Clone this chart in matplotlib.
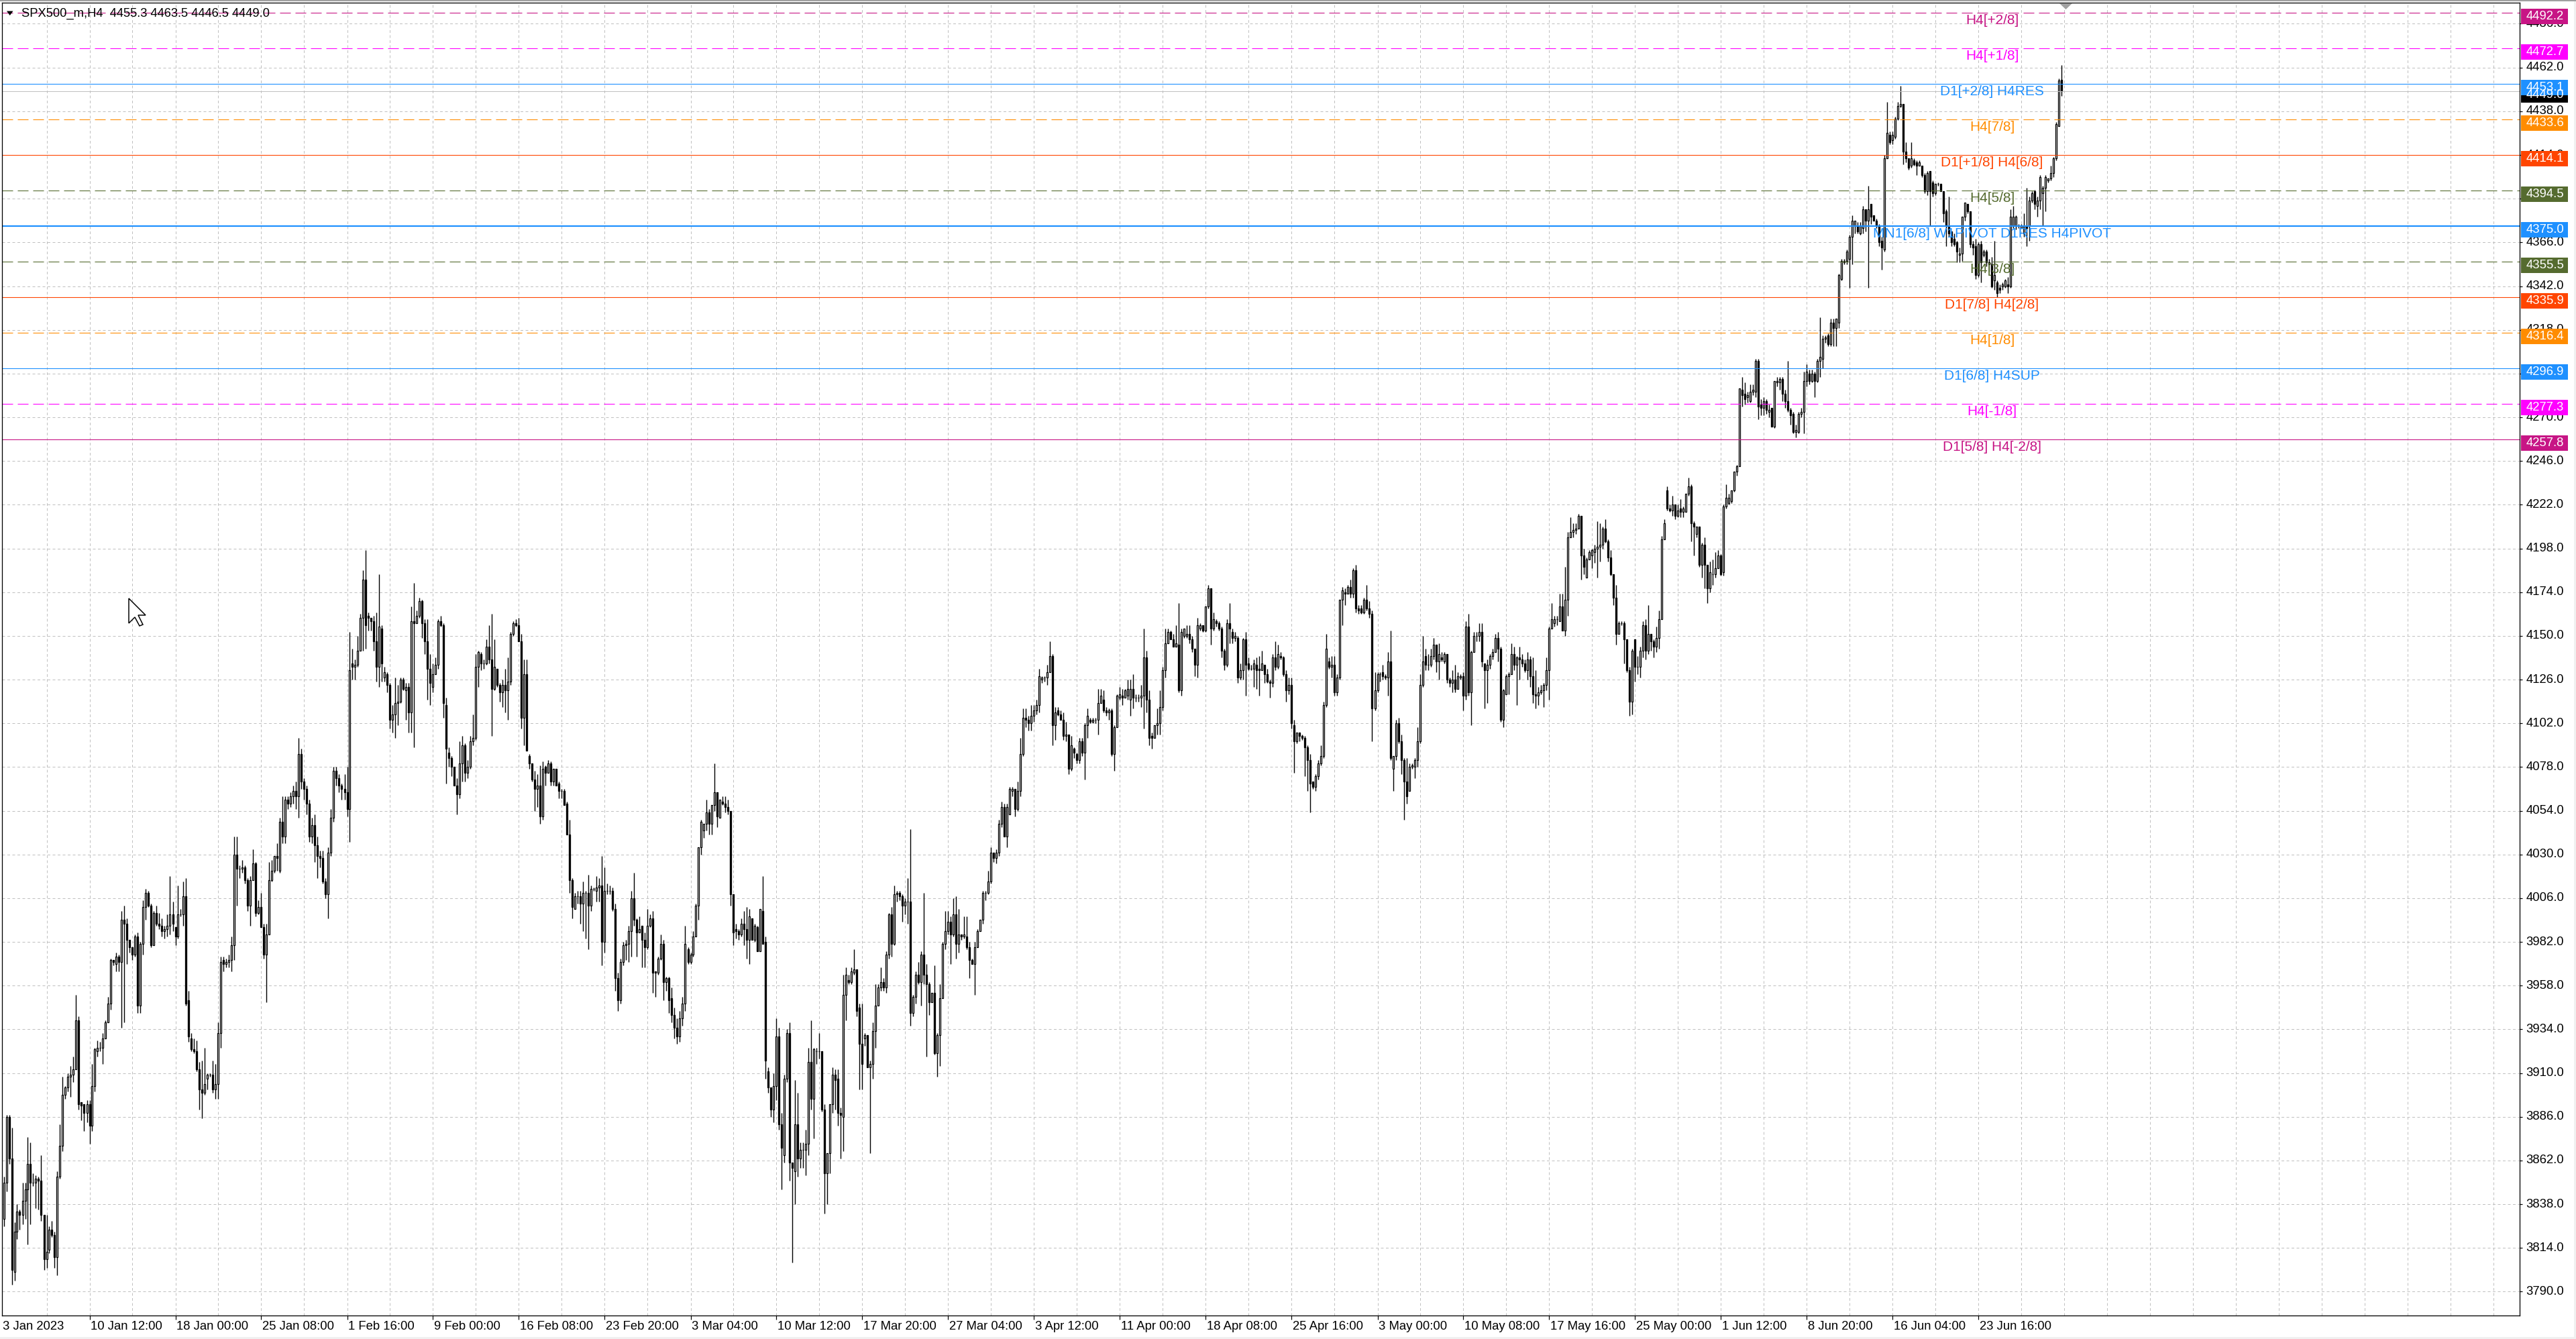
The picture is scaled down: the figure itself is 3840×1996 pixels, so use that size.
import matplotlib
matplotlib.use("Agg")
import matplotlib.pyplot as plt
import numpy as np
from matplotlib.patches import Rectangle, Polygon
from matplotlib.transforms import blended_transform_factory

# ---------------------------------------------------------------- data
# SPX500_m H4 candles, 3 Jan 2023 - 30 Jun 2023 (one row per trading day)
opens = [
 3830,3850,3886,3863,3801,
 3823,3834,3832,3840,3846,3860,
 3850,3850,3852,3851,3832,3808,
 3813,3824,3821,3809,3853,3870,
 3898,3902,3908,3909,3912,3939,
 3894,3893,3888,3893,3881,3903,
 3922,3924,3924,3929,3938,3948,
 3972,3970,3974,3971,3994,3992,
 3983,3979,3975,3985,3947,3981,
 4001,4009,4002,3980,3998,
 3992,3991,3988,3989,3991,3997,
 3990,3985,3997,3997,4007,3950,
 3929,3923,3922,3912,3901,3899,
 3907,3909,3909,3901,3904,3932,
 3972,3970,3971,3972,3980,4030,
 4022,4022,4023,4016,4002,4016,
 4025,3998,4001,3990,3975,3986,
 4016,4021,4029,4021,4048,4040,
 4060,4058,4062,4065,4062,4085,
 4070,4066,4058,4040,4046,4035,
 4029,4028,4015,4008,4031,4050,
 4076,4072,4068,4066,4064,4055,
 4135,4133,4134,4142,4160,4181,
 4161,4160,4158,4147,4133,4154,
 4127,4129,4123,4104,4107,4113,
 4114,4126,4120,4122,4108,4158,
 4157,4161,4169,4157,4147,4132,
 4122,4129,4134,4158,4156,4112,
 4086,4083,4078,4068,4063,4080,
 4090,4075,4078,4092,4094,4133,
 4140,4135,4135,4144,4137,4121,
 4132,4123,4119,4123,4120,4125,
 4151,4157,4156,4147,4105,4129,
 4084,4080,4071,4066,4068,4051,
 4078,4075,4080,4070,4077,
 4069,4065,4065,4058,4041,4016,
 4000,4007,4007,4003,4009,4009,
 4002,4011,4010,4012,4013,3982,
 4010,4010,4010,4000,3962,3950,
 3971,3980,3981,3988,4006,3994,
 3987,3991,3983,3979,3991,3995,
 3966,3965,3973,3981,3960,3962,
 3951,3942,3935,3930,3940,3948,
 3978,3971,3975,3985,4002,4034,
 4043,4047,4053,4047,4057,4064,
 4050,4059,4058,4056,4054,4008,
 3989,3988,3986,3992,3989,3983,
 3995,3983,3990,3977,3999,3982,
 3911,3902,3890,3903,3930,3882,
 3865,3907,3932,3861,3856,3882,
 3863,3868,3868,3871,3916,3896,
 3922,3922,3922,3890,3855,3866,
 3893,3909,3907,3888,3886,3953,
 3961,3960,3965,3967,3946,3926,
 3929,3931,3913,3915,3933,3947,
 3957,3960,3957,3975,3997,3981,
 4008,4009,4007,4002,4004,4004,
 3943,3952,3964,3960,3975,3964,
 3959,3949,3954,3921,3931,3951,
 3981,3988,3993,3986,3997,3981,
 3986,3985,3985,3979,3972,3970,
 3979,3988,3994,4009,4009,4015,
 4031,4028,4031,4047,4056,4040,
 4052,4065,4066,4055,4065,4085,
 4105,4104,4102,4106,4109,4112,
 4126,4127,4127,4130,4139,4101,
 4109,4107,4104,4095,4096,4077,
 4088,4085,4082,4092,4086,4101,
 4104,4103,4104,4104,4113,
 4115,4109,4108,4109,4085,4100,
 4116,4117,4116,4117,4115,4121,
 4116,4116,4116,4117,4138,4115,
 4095,4094,4101,4102,4111,4131,
 4146,4152,4148,4144,4145,4120,
 4150,4150,4151,4148,4143,4134,
 4154,4156,4153,4166,4176,4154,
 4158,4157,4154,4142,4134,4157,
 4152,4149,4149,4127,4131,4148,
 4135,4132,4132,4134,4132,4131,
 4134,4129,4125,4124,4138,4133,
 4139,4138,4129,4120,4123,4101,
 4092,4097,4095,4094,4089,4082,
 4070,4067,4073,4080,4084,4112,
 4136,4133,4134,4119,4127,4170,
 4174,4173,4177,4173,4186,4165,
 4165,4163,4170,4165,4162,4110,
 4120,4129,4130,4128,4127,4136,
 4077,4084,4102,4092,4082,4070,
 4065,4078,4078,4082,4092,4123,
 4139,4134,4134,4139,4145,4136,
 4138,4136,4140,4126,4124,4126,
 4121,4127,4128,4117,4155,4119,
 4141,4150,4150,4152,4135,4131,
 4134,4139,4141,4149,4143,4104,
 4118,4128,4129,4140,4134,4138,
 4137,4135,4131,4137,4128,4118,
 4117,4119,4120,4123,4131,4154,
 4157,4159,4158,4166,4153,4170,
 4204,4207,4208,4209,4216,4194,
 4182,4192,4194,4196,4198,4199,
 4200,4209,4202,4193,4184,4171,
 4151,4157,4157,4148,4131,4114,
 4148,4133,4133,4142,4156,4142,
 4151,4147,4144,4149,4159,4203,
 4230,4220,4219,4222,4216,
 4220,4218,4218,4228,4232,4212,
 4206,4210,4189,4200,4189,4176,
 4184,4184,4187,4194,4185,4221,
 4223,4224,4230,4240,4243,4285,
 4283,4281,4279,4284,4284,4301,
 4277,4275,4279,4273,4275,4265,
 4289,4289,4291,4283,4279,4274,
 4272,4262,4262,4272,4273,4290,
 4294,4290,4294,4290,4301,4302,
 4313,4315,4310,4322,4319,4322,
 4346,4355,4356,4357,4369,4375,
 4375,4371,4374,4384,4378,4387,
 4381,4378,4375,4367,4362,4412,
 4425,4422,4424,4434,4441,4442,
 4416,4412,4408,4411,4410,
 4408,4408,4403,4394,4405,4399,
 4393,4398,4398,4394,4383,4375,
 4372,4368,4366,4359,4360,4380,
 4387,4383,4365,4364,4348,4365,
 4359,4361,4355,4354,4345,4344,
 4341,4342,4342,4343,4342,4375,
 4375,4375,4374,4371,4375,4375,
 4389,4394,4386,4389,4393,4396,
 4400,4401,4404,4412,4430,4455.3,
]

highs = [
 3853,3887,3887,3880,3828,
 3838,3835,3850,3850,3875,3872,
 3855,3854,3853,3865,3832,3832,
 3826,3829,3823,3856,3882,3908,
 3903,3910,3914,3919,3953,3941,
 3894,3893,3895,3895,3915,3924,
 3928,3927,3932,3939,3952,3973,
 3972,3976,3975,3999,4002,3995,
 3983,3979,3986,3987,3982,4005,
 4011,4010,4003,3999,4002,
 3998,3995,3991,3997,4018,4004,
 3990,4013,4000,4015,4017,3955,
 3932,3929,3928,3916,3917,3924,
 3910,3910,3917,3915,3938,3974,
 3974,3973,3975,3985,4040,4040,
 4024,4027,4024,4017,4018,4033,
 4026,4005,4009,3992,3992,4026,
 4027,4029,4036,4050,4062,4062,
 4062,4064,4068,4070,4094,4088,
 4072,4068,4060,4050,4052,4040,
 4032,4032,4017,4034,4055,4078,
 4078,4074,4069,4074,4078,4152,
 4143,4137,4150,4162,4186,4197,
 4163,4160,4161,4163,4184,4156,
 4133,4130,4124,4112,4127,4123,
 4127,4127,4124,4124,4166,4179,
 4164,4171,4170,4159,4159,4140,
 4135,4138,4159,4161,4157,4116,
 4089,4084,4078,4072,4092,4095,
 4091,4082,4095,4107,4140,4142,
 4141,4137,4148,4156,4162,4148,
 4132,4124,4126,4132,4138,4152,
 4158,4159,4160,4151,4137,4137,
 4085,4080,4076,4074,4079,4081,
 4079,4082,4081,4077,4077,
 4070,4066,4066,4059,4049,4017,
 4009,4010,4010,4015,4010,4019,
 4013,4012,4018,4017,4029,4023,
 4014,4013,4012,4003,3965,3973,
 3982,3983,3991,4010,4020,3995,
 3996,3991,3987,4000,3997,3999,
 3966,3974,3986,3983,3963,3963,
 3957,3946,3940,3944,3952,3991,
 3979,3976,3988,4003,4034,4049,
 4047,4060,4055,4057,4080,4064,
 4060,4062,4062,4060,4054,4008,
 3992,3989,3995,3999,4001,4000,
 3995,3992,3991,4000,4018,3985,
 3913,3902,3910,3940,3935,3888,
 3909,3934,3938,3861,3906,3899,
 3872,3872,3879,3924,3939,3924,
 3924,3932,3922,3893,3866,3893,
 3913,3912,3912,3891,3964,3968,
 3964,3968,3978,3967,3948,3948,
 3932,3931,3917,3938,3959,3959,
 3968,3962,3977,3998,4001,4013,
 4010,4010,4008,4006,4017,4044,
 3953,3966,3971,3977,4009,3970,
 3960,3954,3969,3932,3959,3982,
 3999,3999,3996,4006,4007,4000,
 3986,3996,3996,3982,3973,3982,
 3989,3994,4010,4010,4021,4034,
 4031,4033,4049,4059,4058,4058,
 4067,4067,4066,4070,4094,4110,
 4110,4106,4112,4112,4115,4132,
 4128,4128,4134,4147,4140,4111,
 4111,4109,4108,4103,4096,4095,
 4089,4086,4094,4094,4102,4110,
 4105,4105,4105,4121,4121,
 4120,4111,4110,4110,4101,4118,
 4122,4121,4121,4126,4126,4129,
 4118,4118,4123,4154,4142,4120,
 4097,4101,4110,4120,4133,4154,
 4154,4153,4151,4156,4168,4154,
 4154,4156,4156,4150,4143,4160,
 4157,4156,4166,4178,4176,4163,
 4159,4158,4155,4143,4159,4168,
 4154,4152,4150,4135,4149,4152,
 4138,4134,4137,4138,4139,4142,
 4134,4132,4126,4140,4147,4145,
 4141,4139,4131,4127,4127,4104,
 4097,4097,4096,4095,4090,4085,
 4070,4074,4082,4090,4114,4151,
 4138,4139,4139,4129,4170,4177,
 4176,4178,4181,4187,4189,4167,
 4167,4171,4178,4169,4164,4130,
 4130,4130,4134,4129,4141,4153,
 4084,4104,4105,4096,4083,4083,
 4080,4080,4083,4100,4129,4150,
 4143,4140,4143,4149,4145,4146,
 4141,4141,4140,4127,4131,4134,
 4130,4129,4130,4158,4162,4142,
 4152,4152,4157,4157,4135,4137,
 4140,4143,4151,4152,4144,4121,
 4129,4130,4146,4144,4139,4144,
 4140,4137,4141,4139,4138,4131,
 4122,4123,4124,4138,4155,4168,
 4161,4161,4173,4173,4188,4207,
 4215,4212,4212,4217,4216,4198,
 4193,4197,4198,4200,4213,4212,
 4210,4214,4203,4197,4184,4178,
 4158,4158,4158,4148,4133,4143,
 4148,4139,4144,4158,4159,4167,
 4151,4148,4155,4164,4205,4214,
 4232,4222,4227,4222,4222,
 4225,4221,4228,4237,4233,4213,
 4210,4210,4201,4204,4189,4191,
 4192,4196,4197,4195,4222,4233,
 4228,4230,4240,4244,4286,4292,
 4289,4284,4288,4288,4302,4302,
 4280,4281,4280,4277,4275,4290,
 4292,4292,4292,4285,4301,4275,
 4273,4266,4273,4275,4295,4299,
 4296,4296,4295,4302,4325,4315,
 4315,4316,4324,4324,4324,4349,
 4357,4357,4362,4370,4381,4378,
 4377,4377,4386,4384,4397,4387,
 4381,4379,4376,4369,4414,4443,
 4427,4427,4435,4443,4452,4442,
 4421,4412,4421,4412,4411,
 4411,4408,4404,4405,4405,4400,
 4398,4399,4398,4394,4384,4391,
 4372,4371,4367,4363,4380,4388,
 4387,4383,4367,4368,4366,4367,
 4362,4362,4357,4358,4367,4345,
 4343,4344,4346,4347,4384,4386,
 4381,4376,4376,4382,4396,4391,
 4394,4395,4391,4403,4397,4403,
 4401,4408,4413,4432,4456,4463.5,
]

lows = [
 3826,3845,3860,3794,3796,
 3819,3824,3827,3830,3816,3827,
 3848,3836,3835,3829,3802,3803,
 3811,3820,3803,3799,3852,3867,
 3896,3900,3897,3905,3912,3890,
 3884,3878,3883,3871,3878,3900,
 3919,3922,3915,3929,3938,3945,
 3969,3966,3966,3935,3938,3970,
 3976,3972,3974,3943,3943,3975,
 3994,4001,3979,3980,3991,
 3989,3985,3984,3985,3986,3988,
 3980,3984,3996,3991,3947,3927,
 3922,3921,3911,3890,3885,3898,
 3901,3908,3899,3896,3896,3924,
 3966,3968,3968,3966,3972,4002,
 4017,4020,4014,3999,3991,4016,
 3996,3997,3990,3973,3949,3986,
 4015,4020,4021,4020,4036,4036,
 4055,4056,4058,4055,4050,4066,
 4060,4052,4037,4036,4026,4017,
 4023,4014,4006,3995,4029,4048,
 4068,4064,4060,4060,4051,4037,
 4126,4126,4133,4142,4142,4143,
 4153,4153,4142,4125,4122,4125,
 4125,4119,4099,4097,4094,4101,
 4113,4120,4104,4097,4097,4089,
 4157,4160,4149,4140,4115,4112,
 4119,4129,4132,4155,4105,4069,
 4078,4073,4068,4052,4061,4070,
 4070,4072,4077,4090,4093,4122,
 4131,4132,4134,4135,4095,4120,
 4122,4114,4111,4108,4104,4123,
 4150,4155,4147,4099,4090,4087,
 4077,4070,4054,4056,4047,4049,
 4068,4075,4068,4068,4068,
 4061,4061,4057,4041,4009,3995,
 4000,4003,3992,3988,3984,3978,
 3999,4010,4004,4004,3969,3976,
 4008,4008,3999,3955,3944,3948,
 3969,3972,3971,3974,3991,3974,
 3987,3968,3968,3978,3990,3954,
 3952,3964,3972,3950,3955,3943,
 3938,3929,3926,3927,3936,3944,
 3970,3970,3974,3985,3994,4030,
 4039,4043,4041,4041,4054,4045,
 4050,4057,4053,4052,4002,3980,
 3984,3983,3985,3980,3973,3970,
 3983,3982,3977,3977,3981,3907,
 3899,3886,3883,3895,3879,3846,
 3861,3905,3851,3806,3838,3853,
 3858,3858,3854,3865,3890,3874,
 3915,3918,3889,3833,3838,3855,
 3888,3890,3881,3863,3867,3939,
 3959,3959,3964,3941,3901,3901,
 3925,3913,3866,3907,3924,3947,
 3955,3955,3954,3973,3974,3980,
 4004,4005,3993,3997,3992,3936,
 3941,3948,3959,3947,3959,3919,
 3942,3949,3920,3908,3914,3951,
 3978,3986,3970,3985,3973,3976,
 3983,3984,3978,3962,3970,3953,
 3979,3988,3992,4005,4008,4014,
 4026,4025,4029,4045,4040,4034,
 4052,4062,4051,4054,4062,4084,
 4100,4098,4098,4103,4107,4108,
 4124,4125,4123,4130,4090,4093,
 4106,4104,4093,4092,4074,4076,
 4083,4080,4080,4084,4071,4094,
 4102,4102,4102,4096,4113,
 4108,4106,4104,4084,4076,4100,
 4115,4112,4116,4115,4106,4110,
 4114,4114,4111,4099,4108,4090,
 4088,4094,4096,4096,4109,4127,
 4146,4148,4144,4144,4119,4117,
 4149,4149,4146,4141,4128,4127,
 4153,4152,4152,4165,4145,4153,
 4155,4153,4138,4131,4133,4146,
 4146,4147,4124,4126,4126,4117,
 4131,4131,4122,4121,4117,4131,
 4124,4124,4116,4122,4131,4132,
 4137,4128,4114,4118,4099,4075,
 4091,4092,4093,4073,4065,4053,
 4066,4065,4071,4079,4083,4111,
 4132,4127,4117,4117,4126,4156,
 4167,4173,4171,4171,4163,4162,
 4162,4162,4164,4160,4092,4109,
 4119,4125,4126,4126,4117,4082,
 4065,4082,4091,4074,4049,4058,
 4065,4077,4072,4078,4091,4122,
 4131,4131,4133,4137,4130,4126,
 4136,4135,4124,4122,4119,4119,
 4121,4126,4109,4115,4117,4101,
 4141,4147,4147,4133,4110,4113,
 4132,4137,4141,4136,4103,4100,
 4118,4118,4129,4131,4112,4126,
 4133,4130,4126,4122,4113,4110,
 4112,4118,4111,4120,4115,4154,
 4155,4156,4158,4153,4150,4161,
 4204,4204,4206,4209,4181,4184,
 4182,4192,4187,4190,4182,4191,
 4198,4201,4191,4183,4167,4145,
 4151,4156,4135,4130,4106,4107,
 4125,4129,4127,4138,4137,4140,
 4142,4138,4141,4143,4159,4203,
 4219,4218,4216,4214,4215,
 4215,4215,4218,4227,4202,4194,
 4204,4188,4182,4176,4168,4174,
 4178,4182,4187,4183,4183,4220,
 4222,4223,4229,4238,4243,4276,
 4277,4278,4278,4282,4281,4269,
 4271,4271,4272,4270,4265,4264,
 4287,4285,4279,4275,4273,4266,
 4261,4259,4261,4270,4261,4287,
 4288,4289,4281,4289,4292,4297,
 4311,4309,4309,4309,4309,4319,
 4345,4354,4354,4341,4354,4371,
 4371,4370,4371,4372,4341,4376,
 4378,4374,4364,4351,4361,4412,
 4420,4420,4423,4433,4440,4409,
 4410,4406,4407,4408,4403,
 4408,4402,4393,4392,4375,4391,
 4392,4397,4394,4377,4364,4369,
 4364,4364,4355,4355,4356,4378,
 4382,4363,4359,4346,4347,4344,
 4358,4353,4350,4341,4340,4336,
 4338,4340,4341,4338,4341,4374,
 4373,4374,4374,4369,4364,4367,
 4388,4384,4380,4384,4375,4383,
 4399,4400,4402,4411,4430,4446.5,
]

closes = [
 3850,3886,3863,3802,3823,
 3834,3832,3840,3846,3860,3850,
 3850,3852,3851,3832,3808,3812,
 3824,3821,3809,3853,3870,3898,
 3902,3908,3909,3912,3939,3893,
 3892,3888,3893,3881,3903,3923,
 3924,3924,3929,3938,3948,3972,
 3971,3974,3971,3994,3992,3983,
 3979,3975,3985,3947,3981,4001,
 4009,4002,3980,3998,3992,
 3991,3988,3989,3991,3997,3992,
 3985,3997,3997,4007,3948,3930,
 3923,3922,3912,3901,3899,3904,
 3909,3909,3901,3904,3932,3971,
 3970,3971,3972,3980,4030,4022,
 4022,4023,4016,4002,4016,4025,
 3998,4001,3990,3975,3986,4016,
 4021,4029,4028,4048,4040,4060,
 4058,4062,4065,4062,4085,4070,
 4066,4058,4040,4046,4035,4029,
 4028,4015,4008,4031,4050,4076,
 4072,4068,4066,4064,4055,4131,
 4133,4134,4142,4160,4181,4156,
 4160,4158,4147,4133,4155,4135,
 4130,4123,4104,4107,4113,4114,
 4126,4121,4122,4108,4158,4157,
 4161,4169,4157,4147,4132,4124,
 4129,4134,4158,4156,4113,4088,
 4083,4078,4068,4063,4080,4090,
 4075,4078,4092,4094,4133,4141,
 4135,4135,4144,4137,4121,4133,
 4123,4119,4123,4120,4125,4151,
 4157,4156,4147,4105,4129,4087,
 4080,4071,4066,4068,4051,4077,
 4075,4080,4070,4077,4068,
 4065,4065,4057,4041,4016,4001,
 4007,4007,4003,4009,4009,4002,
 4011,4011,4012,4013,3982,4010,
 4010,4010,4000,3962,3950,3971,
 3980,3981,3988,4006,3994,3987,
 3989,3983,3979,3991,3995,3965,
 3965,3973,3981,3960,3962,3950,
 3942,3935,3930,3940,3948,3981,
 3971,3975,3985,4002,4034,4048,
 4047,4053,4047,4057,4064,4051,
 4060,4058,4056,4054,4008,3987,
 3988,3986,3992,3989,3983,3996,
 3983,3991,3977,4000,3981,3917,
 3902,3890,3903,3930,3882,3869,
 3907,3932,3861,3858,3882,3863,
 3868,3868,3871,3916,3896,3923,
 3922,3922,3890,3855,3866,3893,
 3909,3906,3888,3887,3953,3964,
 3960,3966,3967,3944,3926,3915,
 3931,3913,3915,3933,3947,3957,
 3960,3957,3975,3997,3981,4008,
 4009,4007,4002,4004,4004,3943,
 3952,3964,3960,3975,3964,3959,
 3949,3954,3921,3931,3951,3981,
 3988,3993,3986,3997,3981,3986,
 3985,3986,3979,3972,3970,3979,
 3988,3994,4009,4009,4015,4031,
 4028,4031,4047,4056,4040,4056,
 4066,4066,4055,4065,4085,4105,
 4104,4102,4106,4109,4112,4128,
 4127,4127,4130,4139,4101,4108,
 4107,4104,4095,4096,4077,4090,
 4086,4082,4092,4086,4101,4106,
 4103,4104,4104,4113,4117,
 4109,4108,4109,4085,4100,4117,
 4118,4116,4120,4121,4121,4116,
 4116,4116,4117,4138,4115,4094,
 4094,4101,4102,4111,4131,4146,
 4152,4148,4144,4146,4120,4152,
 4154,4151,4148,4143,4134,4156,
 4156,4153,4166,4176,4154,4159,
 4157,4154,4142,4134,4157,4154,
 4149,4150,4127,4131,4148,4134,
 4132,4132,4135,4131,4131,4135,
 4129,4125,4124,4138,4133,4140,
 4138,4129,4120,4123,4102,4092,
 4097,4095,4094,4089,4082,4069,
 4067,4073,4080,4084,4112,4143,
 4133,4134,4119,4127,4170,4175,
 4173,4177,4173,4186,4165,4164,
 4163,4170,4165,4162,4110,4120,
 4129,4129,4128,4127,4136,4083,
 4084,4102,4092,4082,4070,4062,
 4078,4079,4082,4092,4123,4136,
 4134,4134,4139,4145,4136,4140,
 4137,4140,4126,4124,4126,4121,
 4128,4128,4117,4155,4119,4141,
 4150,4150,4152,4136,4131,4134,
 4139,4141,4149,4143,4104,4120,
 4128,4129,4140,4134,4138,4137,
 4135,4131,4137,4128,4118,4117,
 4119,4120,4123,4131,4154,4159,
 4159,4159,4166,4153,4170,4204,
 4207,4208,4209,4216,4194,4188,
 4192,4196,4197,4198,4199,4200,
 4209,4202,4193,4184,4171,4151,
 4157,4157,4148,4131,4114,4142,
 4133,4133,4142,4156,4142,4151,
 4147,4144,4149,4159,4203,4212,
 4220,4219,4222,4216,4219,
 4218,4220,4228,4232,4212,4210,
 4210,4189,4200,4189,4176,4185,
 4184,4187,4194,4184,4221,4226,
 4226,4230,4240,4243,4286,4282,
 4280,4282,4284,4285,4301,4276,
 4275,4279,4274,4274,4265,4290,
 4290,4291,4283,4279,4274,4271,
 4262,4263,4272,4273,4290,4295,
 4290,4294,4290,4301,4303,4313,
 4314,4310,4322,4319,4324,4348,
 4356,4356,4361,4369,4378,4378,
 4372,4375,4384,4378,4384,4380,
 4378,4375,4366,4363,4412,4426,
 4421,4425,4434,4441,4442,4416,
 4412,4407,4412,4409,4408,
 4410,4403,4394,4404,4394,4393,
 4398,4398,4394,4382,4375,4371,
 4366,4365,4361,4360,4380,4388,
 4383,4365,4363,4348,4365,4355,
 4361,4355,4354,4342,4348,4338,
 4340,4343,4345,4342,4380,4380,
 4380,4375,4375,4375,4374,4389,
 4393,4387,4389,4402,4396,4402,
 4401,4404,4412,4431,4455,4449.0,
]

# Murrey-math style levels drawn on the chart
level_prices = [4492.2, 4472.7, 4453.1, 4433.6, 4414.1, 4394.5, 4375.0,
                4355.5, 4335.9, 4316.4, 4296.9, 4277.3, 4257.8]
level_names = ["H4[+2/8]", "H4[+1/8]", "D1[+2/8] H4RES", "H4[7/8]",
               "D1[+1/8] H4[6/8]", "H4[5/8]", "MN1[6/8] W1PIVOT D1RES H4PIVOT",
               "H4[3/8]", "D1[7/8] H4[2/8]", "H4[1/8]", "D1[6/8] H4SUP",
               "H4[-1/8]", "D1[5/8] H4[-2/8]"]
level_colors = ["#C71585", "#FF00FF", "#1E90FF", "#FF8C00", "#FF4500", "#556B2F",
                "#1E90FF", "#556B2F", "#FF4500", "#FF8C00", "#1E90FF", "#FF00FF",
                "#C71585"]
level_dashed = [True, True, False, True, False, True, False,
                True, False, True, False, True, False]
level_thick = [False, False, False, False, False, False, True,
               False, False, False, False, False, False]
bid_price = 4449.0

price_ticks = [3790, 3814, 3838, 3862, 3886, 3910, 3934, 3958, 3982, 4006, 4030,
               4054, 4078, 4102, 4126, 4150, 4174, 4198, 4222, 4246, 4270, 4294,
               4318, 4342, 4366, 4390, 4414, 4438, 4462, 4486]

date_label_bars = [0, 32, 64, 96, 128, 160, 192, 224, 256, 288, 320, 352, 384,
                   416, 448, 480, 512, 544, 576, 608, 640, 672, 704, 736]
date_labels = ["3 Jan 2023", "10 Jan 12:00", "18 Jan 00:00", "25 Jan 08:00",
               "1 Feb 16:00", "9 Feb 00:00", "16 Feb 08:00", "23 Feb 20:00",
               "3 Mar 04:00", "10 Mar 12:00", "17 Mar 20:00", "27 Mar 04:00",
               "3 Apr 12:00", "11 Apr 00:00", "18 Apr 08:00", "25 Apr 16:00",
               "3 May 00:00", "10 May 08:00", "17 May 16:00", "25 May 00:00",
               "1 Jun 12:00", "8 Jun 20:00", "16 Jun 04:00", "23 Jun 16:00"]

title_text = "SPX500_m,H4  4455.3 4463.5 4446.5 4449.0"

# ---------------------------------------------------------------- figure
W, H, DPI = 3840, 1996, 100
PX = 72.0 / DPI            # one pixel in points
plt.rcParams['font.family'] = ['Liberation Sans', 'DejaVu Sans']
plt.rcParams['lines.scale_dashes'] = False

fig = plt.figure(figsize=(W / DPI, H / DPI), dpi=DPI)
fig.patch.set_facecolor('white')

PL, PR, PT, PB = 3, 3756, 4, 1961          # plot frame in image pixels
ax = fig.add_axes([PL / W, 1 - PB / H, (PR - PL) / W, (PB - PT) / H])
ax.set_facecolor('white')
ax.set_xlim(-0.625, 937.625)
ax.set_ylim(3776.9, 4497.6)

for sp in ax.spines.values():
    sp.set_color('black')
    sp.set_linewidth(1.3 * PX)
    sp.set_zorder(20)

# ticks
ax.yaxis.tick_right()
ax.set_yticks(price_ticks)
ax.set_xticks(date_label_bars[1:])
ax.tick_params(axis='y', length=3.5 * PX, width=1.2 * PX, direction='out',
               labelright=False, labelleft=False, color='black')
ax.tick_params(axis='x', length=6 * PX, width=1.2 * PX, direction='out',
               labelbottom=False, color='black')

# grid
grid_kw = dict(color='#C0C0C0', lw=1.0 * PX, ls=(0, (4 * PX, 3.5 * PX)), zorder=0.5)
for p in price_ticks:
    ax.axhline(p, **grid_kw)
for b in range(16, 938, 16):
    ax.axvline(b, **grid_kw)

# candles
n = min(len(opens), len(highs), len(lows), len(closes))
o = np.array(opens[:n], float)
h = np.array(highs[:n], float)
l = np.array(lows[:n], float)
c = np.array(closes[:n], float)
x = np.arange(n)
top = np.maximum(o, c)
bot = np.minimum(o, c)
ax.vlines(x, np.minimum(l, bot), np.maximum(h, top), color='black',
          lw=1.4 * PX, zorder=2)
faces = np.where(c >= o, 'white', 'black')
ax.bar(x, top - bot, bottom=bot, width=0.5, color=faces, edgecolor='black',
       linewidth=1.3 * PX, zorder=3)

# bid line
ax.axhline(bid_price, color='#C0C0C0', lw=1.0 * PX, zorder=4)

# level lines and labels
for p, name, col, dsh, thk in zip(level_prices, level_names, level_colors,
                                  level_dashed, level_thick):
    lw = (2.2 if thk else 1.1) * PX
    if dsh:
        ax.axhline(p, color=col, lw=lw, ls=(0, (16 * PX, 7 * PX)), zorder=5)
    else:
        ax.axhline(p, color=col, lw=lw, zorder=5)
    ax.text(741, p - 4.2, name, color=col, fontsize=15, ha='center',
            va='center', zorder=6)

# right price scale: tick labels, then price boxes on top
blend_fy = blended_transform_factory(fig.transFigure, ax.transData)
for p in price_ticks:
    ax.text(3765.7 / W, p, "%.1f" % p, transform=blend_fy, fontsize=13.3,
            ha='left', va='center', color='black', clip_on=False, zorder=30)

draw_order = [(bid_price, 'black')] + list(zip(level_prices, level_colors))
for p, col in draw_order:
    rect = Rectangle((3758 / W, p - 6.3), 70 / W, 8.5, transform=blend_fy,
                     facecolor=col, edgecolor='none', clip_on=False, zorder=31)
    ax.add_patch(rect)
    ax.text(3765.7 / W, p - 2.1, "%.1f" % p, transform=blend_fy, fontsize=13.3,
            ha='left', va='center', color='white', clip_on=False, zorder=32)

# bottom time labels
blend_xf = blended_transform_factory(ax.transData, fig.transFigure)
for b, s in zip(date_label_bars, date_labels):
    xb = b + 0.3 if b > 0 else -0.4
    ax.text(xb, 1 - 1977.5 / H, s, transform=blend_xf, fontsize=13.3,
            ha='left', va='center', color='black', clip_on=False, zorder=30)

# helpers for image-pixel decorations
def fp(pts):
    return [(px / W, 1 - py / H) for px, py in pts]

# title with small triangle
fig.patches.append(Polygon(fp([(10, 16.5), (19.5, 16.5), (14.75, 23)]), closed=True,
                           facecolor='black', edgecolor='none',
                           transform=fig.transFigure, zorder=40))
fig.text(32 / W, 1 - 20 / H, title_text, fontsize=13.2, ha='left', va='center',
         color='black', zorder=41)

# chart-shift marker at the top
fig.patches.append(Polygon(fp([(3070, 5), (3089, 5), (3079.5, 14)]), closed=True,
                           facecolor='#A0A0A0', edgecolor='none',
                           transform=fig.transFigure, zorder=40))

# mouse cursor
tip = (192, 892)
cur = [(0, 0), (0, 37), (9, 28), (16, 41), (21, 39), (14, 25), (25, 25)]
fig.patches.append(Polygon(fp([(tip[0] + a, tip[1] + b) for a, b in cur]), closed=True,
                           facecolor='white', edgecolor='black', linewidth=1.5 * PX,
                           transform=fig.transFigure, zorder=42))

# window edges
fig.patches.append(Rectangle((0, 0), 1, 3 / H, transform=fig.transFigure,
                             facecolor='#F0F0F0', edgecolor='none', zorder=39))
fig.patches.append(Rectangle((3837 / W, 0), 3 / W, 1, transform=fig.transFigure,
                             facecolor='#F0F0F0', edgecolor='none', zorder=39))
fig.patches.append(Rectangle((0, 1 - 1.5 / H), 1, 1.5 / H, transform=fig.transFigure,
                             facecolor='#A0A0A0', edgecolor='none', zorder=39))

fig.savefig("out.png", dpi=DPI, facecolor='white')
